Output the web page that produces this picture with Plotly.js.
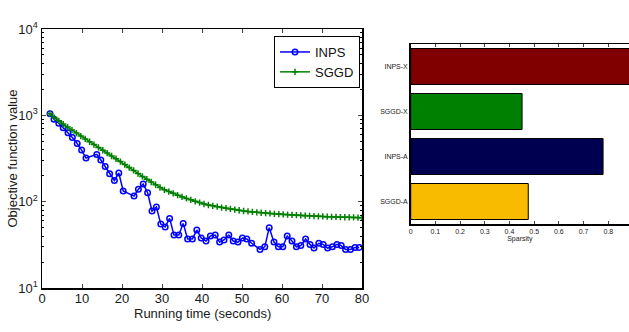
<!DOCTYPE html>
<html><head><meta charset="utf-8">
<script src="https://cdn.plot.ly/plotly-3.0.1.min.js"></script>
<style>html,body{margin:0;padding:0;background:#fff}#g{width:629px;height:332px}</style>
</head><body><div id="g"></div>
<script>
// INPS objective value vs running time
const inpsTime = [2,3,4.2,5.3,6.5,7.6,8.8,9.9,11,13.7,14.7,15.8,16.9,18.1,19.2,20.3,23,24.1,25.3,26.4,27.5,28.6,29.7,30.8,31.9,33,34.2,35.3,36.4,37.6,38.7,39.8,41,42.1,43.3,44.4,45.5,46.7,47.8,49,50.1,51.2,52.4,54.5,55.7,56.8,58,59.1,60.2,61.3,62.5,63.6,64.7,65.9,67,68,69.2,70.3,71.4,72.6,73.75,74.8,75.9,77.1,78.25,79.3];
const inpsValue = [1040,900,810,720,630,553,472,396,320,353,304,255,210,176,215,133,116,139,160,127,78,87,55,51,64,41,41,56,37,37,47,38,35,40,41,34,36,41,35,34,38,37,33,28,30,50,34,30,30,40,35,30,31,37,32,29,33,32,29,30,32,31,28,28,29.5,29.5];
// SGGD objective value vs running time
const sggdTime = [2,3.1,4.2,5.3,6.4,7.5,8.6,9.7,10.8,11.9,13,14.1,15.2,16.3,17.4,18.5,19.6,20.7,21.8,22.9,24,25.1,26.2,27.3,28.4,29.5,30.6,31.7,32.8,33.9,35,36.1,37.2,38.3,39.4,40.5,41.6,42.7,43.8,44.9,46,47.1,48.2,49.3,50.4,51.5,52.6,53.7,54.8,55.9,57,58.1,59.2,60.3,61.4,62.5,63.6,64.7,65.8,66.9,68,69.1,70.2,71.3,72.4,73.5,74.6,75.7,76.8,77.9,79,80];
const sggdValue = [1040,943,863,792,731,675,623,575,533,494,458,425,394,365,338,314,291,269,248,230,212,196,182,169,157,146,137,131,125,119,113.5,109,105,101,97.5,94,91.5,89.5,87.5,85.5,84,82.5,81,79.5,78,77,76,75.2,74.4,73.7,73,72.4,71.8,71.2,70.7,70.2,69.7,69.3,68.9,68.5,68.1,67.7,67.4,67.1,66.8,66.5,66.2,66,65.8,65.6,65.4,65.2];
// Sparsity bars (bottom to top)
const barCats = ['SGGD-A','INPS-A','SGGD-X','INPS-X'];
const barVals = [0.476,0.779,0.451,0.90];
const barColors = ['#F9BB00','#000050','#008000','#800000'];
const xTicks = [0,10,20,30,40,50,60,70,80];
const yTickVals = [10,100,1000,10000];
const yTickText = ['10<sup>1</sup>','10<sup>2</sup>','10<sup>3</sup>','10<sup>4</sup>'];
const sparsTicks = [0,0.1,0.2,0.3,0.4,0.5,0.6,0.7,0.8];

const minorVals = [];
for (const d of [10,100,1000]) for (let k=2;k<=9;k++) minorVals.push(d*k);

const F = 'Liberation Sans, Arial, sans-serif';
const TC = '#1a1a1a';
const data = [
  {x: inpsTime, y: inpsValue, name:'INPS', type:'scatter', mode:'lines+markers',
   line:{color:'#0000FF', width:1.5}, marker:{symbol:'circle-open', size:5.5, color:'#0000FF', line:{width:1.5}}, xaxis:'x', yaxis:'y'},
  {x: sggdTime, y: sggdValue, name:'SGGD', type:'scatter', mode:'lines+markers',
   line:{color:'#008000', width:1.5}, marker:{symbol:'cross-thin-open', size:4.5, color:'#008000', line:{width:1.5, color:'#008000'}}, xaxis:'x', yaxis:'y'},
  {x: barVals, y: barCats, type:'bar', orientation:'h', showlegend:false,
   marker:{color: barColors, line:{color:'#000', width:1}}, xaxis:'x2', yaxis:'y2'}
];
const layout = {
  width:629, height:332, margin:{l:0,r:0,t:0,b:0}, paper_bgcolor:'#fff', plot_bgcolor:'#fff',
  font:{family:F, color:TC, size:13}, showlegend:true, bargap:0.2,
  xaxis:{domain:[42/629, 362/629], range:[0,80], tickvals:xTicks, ticks:'inside', ticklen:4, mirror:'ticks',
    showline:true, linecolor:'#000', linewidth:1.5, showgrid:false, zeroline:false, ticklabelstandoff:-2,
    tickfont:{size:13, family:F, color:TC}, anchor:'y'},
  yaxis:{domain:[44/332, 303/332], type:'log', range:[1,4], tickvals:yTickVals, ticktext:yTickText, ticks:'inside', ticklen:4,
    mirror:'ticks', showline:true, linecolor:'#000', linewidth:1.5, showgrid:false, zeroline:false,
    minor:{tickvals:minorVals, ticks:'inside', ticklen:2, tickcolor:'#000', showgrid:false},
    tickfont:{size:13, family:F, color:TC}, anchor:'x'},
  xaxis2:{domain:[410.7/629, 1], range:[0,0.884], tickvals:sparsTicks, ticktext:['0','0.1','0.2','0.3','0.4','0.5','0.6','0.7','0.8'],
    ticks:'inside', ticklen:3, mirror:'ticks', showline:true, linecolor:'#000', linewidth:1.5, showgrid:false, zeroline:false,
    tickfont:{size:7, family:F, color:TC}, title:{text:'Sparsity', font:{size:7, family:F, color:TC}, standoff:0}, anchor:'y2'},
  yaxis2:{domain:[108/332, 288/332], type:'category', ticks:'', mirror:true, showline:true, linecolor:'#000', linewidth:1.5,
    showgrid:false, zeroline:false, tickfont:{size:7, family:F, color:TC}, anchor:'x2'},
  legend:{x:360/629, y:296/332, xanchor:'right', yanchor:'top', bordercolor:'#000', borderwidth:1, bgcolor:'#fff',
    font:{size:13, family:F, color:'#111'}, tracegroupgap:0, itemwidth:30},
  annotations:[
    {text:'Running time (seconds)', xref:'paper', yref:'paper', x:202/629, y:(332-313)/332, xanchor:'center', yanchor:'middle',
     showarrow:false, font:{size:13, family:F, color:TC}},
    {text:'Objective function value', xref:'paper', yref:'paper', x:12/629, y:(332-158.5)/332, xanchor:'center', yanchor:'middle',
     textangle:-90, showarrow:false, font:{size:13, family:F, color:TC}}
  ]
};
Plotly.newPlot('g', data, layout, {staticPlot:true, displayModeBar:false});
</script></body></html>
